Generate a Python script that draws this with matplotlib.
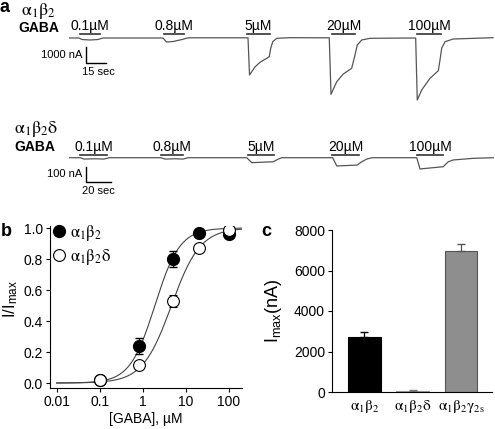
import numpy as np
import matplotlib.pyplot as plt
from matplotlib.lines import Line2D

plt.rcParams['font.family'] = ['Liberation Sans', 'DejaVu Sans']
plt.rcParams['mathtext.fontset'] = 'custom'
plt.rcParams['mathtext.rm'] = 'Liberation Sans'
plt.rcParams['mathtext.it'] = 'Liberation Sans:italic'
plt.rcParams['mathtext.bf'] = 'Liberation Sans:bold'

# ---- panel a: GABA-evoked currents (time in s, current in nA from baseline)
conc_labels = ['0.1µM', '0.8µM', '5µM', '20µM', '100µM']

ab_t = [0, 7.5, 9.75, 15.75, 21.75, 25.5, 70.5, 73.1, 78, 85.5, 87.75, 90,
        134.25, 135.4, 139.5, 143.25, 148.3, 150.2, 151.3, 152.8, 155.8, 165.75,
        195.2, 196.5, 200.8, 205.7, 212, 214.5, 216.2, 219.5, 225.75,
        260, 261.2, 264.5, 270.75, 277, 278.25, 279.5, 282, 288.2, 318]
ab_i = [0, 0, -94, -125, -94, 0, 0, -250, -219, -81, -19, 12,
        12, -2312, -1806, -1519, -1269, -1169, -644, -231, -19, 19,
        12, -3519, -2731, -2250, -1894, -1062, -437, -125, -19,
        0, -3875, -3250, -2519, -2044, -1375, -644, -231, -62, 19]
ab_on = [8.25, 71.25, 133.5, 197.25, 261.0]
ab_off = [23.25, 86.25, 150.75, 214.5, 279.0]

abd_t = [0, 8.8, 12, 20.8, 28, 32, 73.6, 76.8, 84.8, 91.2, 95.2,
         142.2, 146.2, 163.4, 167.4, 170.2, 210.9, 214.2, 230.6, 234.2, 238.2, 242.4,
         278.2, 280.8, 299.4, 303.4, 307.4, 323.4, 339.4]
abd_i = [0, 0, -9, -7, -9, 0, 0, -9, -7, -9, 0,
         0, -33, -27, -9, 0, 0, -55, -49, -27, -9, 0,
         0, -75, -60, -27, -15, -4, 0]
abd_on = [8.8, 73.6, 143.2, 210.4, 278.4]
abd_off = [30.4, 91.2, 164.0, 232.0, 299.2]

# ---- panel b: concentration-response
conc = [0.1, 0.8, 5, 20, 100]
resp_ab = [0.02, 0.24, 0.80, 0.97, 0.96]
err_ab = [0.0, 0.05, 0.05, 0.0, 0.0]
resp_abd = [0.02, 0.115, 0.53, 0.87, 0.99]
err_abd = [0.0, 0.0, 0.04, 0.0, 0.0]
ec50_ab, hill_ab = 1.9, 1.5
ec50_abd, hill_abd = 4.6, 1.3

# ---- panel c: maximal currents
AB = r'$\mathrm{\alpha}_1\mathrm{\beta}_2$'
ABD = r'$\mathrm{\alpha}_1\mathrm{\beta}_2\mathrm{\delta}$'
ABG = r'$\mathrm{\alpha}_1\mathrm{\beta}_2\mathrm{\gamma}_{\mathrm{2s}}$'
receptors = [AB, ABD, ABG]
imax = [2730, 40, 6960]
imax_err = [250, 40, 370]
bar_colors = ['black', '#c4c4c4', '#8e8e8e']
bar_edges = ['black', '#999999', '#555555']
err_colors = ['black', '#777777', '#555555']

W, H = 495, 429
fig = plt.figure(figsize=(W / 100, H / 100), dpi=100)


def box(left, top, right, bottom):
    return [left / W, 1 - bottom / H, (right - left) / W, (bottom - top) / H]


def greek(x, y, s, size=13):
    fig.text(x / W, 1 - y / H, s, fontsize=size, math_fontfamily='stix', va='center')


def trace_panel(rect, t, cur, on, off, xlim, ylim, bar_y, lab_y, sb):
    ax = fig.add_axes(rect)
    ax.plot(t, cur, color='#555555', lw=0.9)
    for a, b, lab in zip(on, off, conc_labels):
        ax.plot([a, b], [bar_y, bar_y], color='#333333', lw=1.2, clip_on=False)
        ax.text((a + b) / 2, lab_y, lab, ha='center', va='center', fontsize=10)
    x0, y0, dt, di, tlab, ilab, ilab_y, tlab_y = sb
    ax.plot([x0, x0, x0 + dt], [y0 + di, y0, y0], color='black', lw=1)
    ax.text(x0 - 3, ilab_y, ilab, ha='right', va='center', fontsize=8)
    ax.text(x0 - 3, tlab_y, tlab, ha='left', va='center', fontsize=8)
    ax.set_xlim(*xlim)
    ax.set_ylim(*ylim)
    ax.axis('off')
    return ax


trace_panel(box(69, 20, 494, 110), ab_t, ab_i, ab_on, ab_off,
            (0, 318.75), (-4500, 1125), 250, 720,
            (12.75, -1562.5, 15, 1000, '15 sec', '1000 nA', -1062, -2125))
trace_panel(box(69, 135, 494, 200), abd_t, abd_i, abd_on, abd_off,
            (0, 340), (-282, 151.5), 18, 72,
            (13.6, -162, 20, 100, '20 sec', '100 nA', -109, -222))

fig.text(0 / W, 1 - 8 / H, 'a', fontsize=13, fontweight='bold', va='center')
greek(21, 11, AB)
fig.text(18 / W, 1 - 28 / H, 'GABA', fontsize=10, fontweight='bold', va='center')
greek(14, 129, ABD)
fig.text(14 / W, 1 - 147 / H, 'GABA', fontsize=10, fontweight='bold', va='center')

# ---- panel b
axb = fig.add_axes(box(50, 226, 242, 388))
xx = np.logspace(-2, np.log10(200), 300)
axb.plot(xx, 1 / (1 + (ec50_ab / xx) ** hill_ab), color='#444444', lw=0.8)
axb.plot(xx, 1 / (1 + (ec50_abd / xx) ** hill_abd), color='#444444', lw=0.8)
axb.errorbar(conc, resp_ab, yerr=err_ab, fmt='o', ms=8.5, mfc='black', mec='black',
             ecolor='black', elinewidth=0.9, capsize=3, zorder=3)
axb.errorbar(conc, resp_abd, yerr=err_abd, fmt='o', ms=8.5, mfc='white', mec='black',
             mew=0.8, ecolor='black', elinewidth=0.9, capsize=3, zorder=4)
axb.set_xscale('log')
axb.set_xlim(0.0070, 200)
axb.set_ylim(-0.032, 1.013)
axb.set_xticks([0.01, 0.1, 1, 10, 100])
axb.set_xticklabels(['0.01', '0.1', '1', '10', '100'])
axb.minorticks_off()
axb.set_yticks([0, 0.2, 0.4, 0.6, 0.8, 1.0])
axb.set_yticklabels(['0.0', '0.2', '0.4', '0.6', '0.8', '1.0'])
axb.tick_params(labelsize=10, length=3, width=0.8, pad=2)
axb.spines[['top', 'right']].set_visible(False)
axb.set_xlabel('[GABA], µM', fontsize=10, labelpad=2)
axb.set_ylabel(r'I/I$_{\mathrm{max}}$', fontsize=12)
axb.yaxis.set_label_coords(-0.155, 0.55)
handles = [Line2D([], [], ls='none', marker='o', ms=8.5, mfc='black', mec='black'),
           Line2D([], [], ls='none', marker='o', ms=8.5, mfc='white', mec='black', mew=0.8)]
leg = axb.legend(handles, [AB, ABD], loc='upper left', bbox_to_anchor=(-0.03, 1.07),
                 frameon=False, handlelength=0.8, handletextpad=0.25, labelspacing=0.25,
                 borderpad=0, fontsize=12)
for txt in leg.get_texts():
    txt.set_math_fontfamily('stix')
fig.text(1 / W, 1 - 231 / H, 'b', fontsize=13, fontweight='bold', va='center')

# ---- panel c
axc = fig.add_axes(box(332, 230, 492, 392))
pos = np.arange(len(imax))
axc.bar(pos, imax, width=0.68, color=bar_colors, edgecolor=bar_edges, linewidth=0.8)
for p, v, e, c in zip(pos, imax, imax_err, err_colors):
    axc.errorbar(p, v, yerr=[[0], [e]], fmt='none', ecolor=c, elinewidth=0.9, capsize=3)
axc.set_xlim(-0.67, 2.64)
axc.set_ylim(0, 8000)
axc.set_yticks([0, 2000, 4000, 6000, 8000])
axc.set_xticks(pos)
axc.set_xticklabels(receptors, math_fontfamily='stix', fontsize=11)
axc.tick_params(axis='y', labelsize=10, length=3, width=0.8, pad=2)
axc.tick_params(axis='x', length=0, pad=4)
axc.spines[['top', 'right']].set_visible(False)
axc.set_ylabel(r'I$_{\mathrm{max}}$(nA)', fontsize=13)
axc.yaxis.set_label_coords(-0.3, 0.5)
fig.text(261 / W, 1 - 231 / H, 'c', fontsize=13, fontweight='bold', va='center')

fig.savefig('out.png', dpi=100)
